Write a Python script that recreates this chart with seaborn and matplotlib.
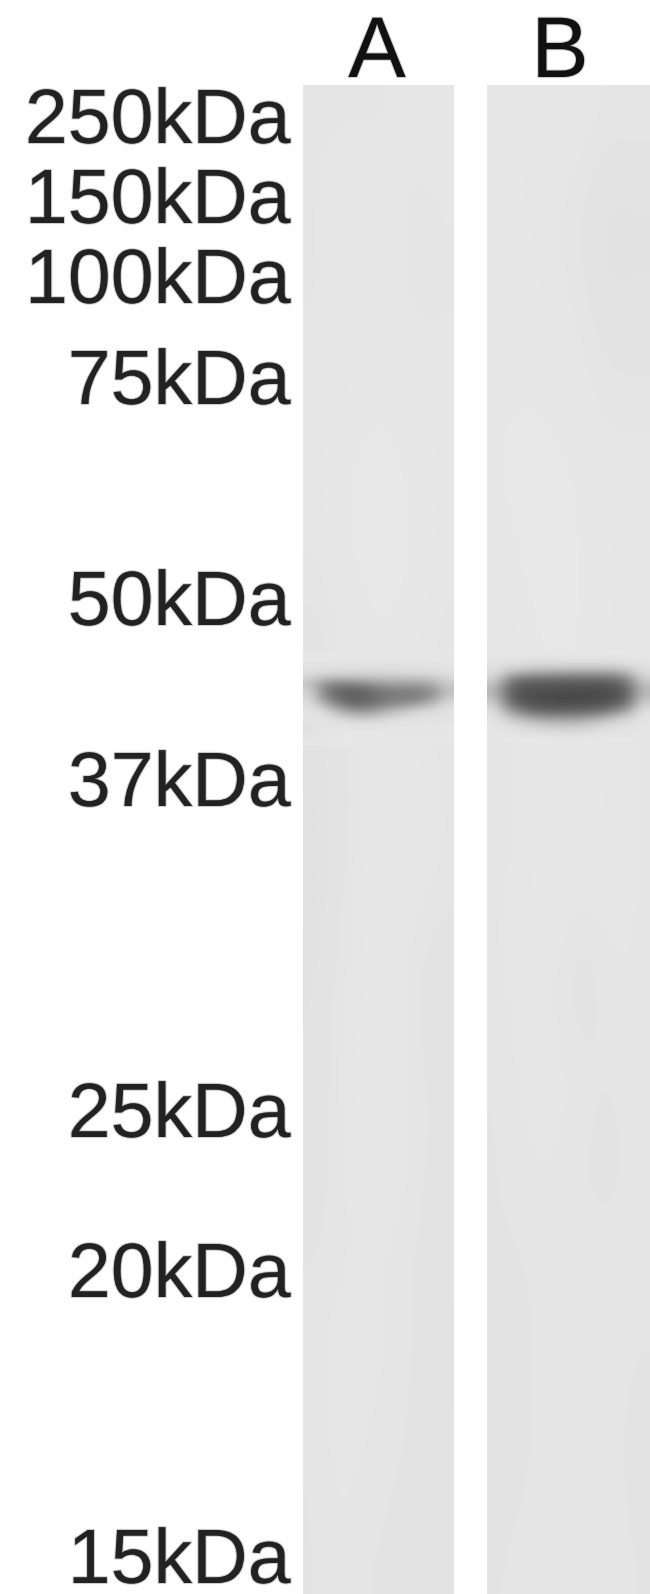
import numpy as np
import matplotlib
matplotlib.use("Agg")
import matplotlib.pyplot as plt
import matplotlib.patheffects as pe
import seaborn as sns

W, H = 650, 1594
marker_labels = ["250kDa", "150kDa", "100kDa", "75kDa", "50kDa", "37kDa", "25kDa", "20kDa", "15kDa"]
lane_labels = ["A", "B"]

lane_a_background = [
    [229, 229, 229, 229, 230, 230],
    [229, 230, 230, 230, 228, 229],
    [229, 229, 230, 230, 229, 229],
    [230, 230, 231, 231, 230, 230],
    [230, 231, 232, 232, 231, 230],
    [228, 230, 231, 231, 231, 229],
    [226, 229, 231, 231, 230, 228],
    [225, 226, 230, 231, 231, 229],
    [224, 228, 231, 231, 230, 229],
    [226, 229, 230, 230, 228, 226],
    [226, 230, 231, 230, 229, 227],
    [227, 229, 230, 230, 229, 227],
    [228, 229, 229, 229, 228, 226],
    [229, 230, 230, 229, 228, 226],
    [228, 230, 229, 228, 228, 226],
    [228, 229, 228, 228, 228, 227],
]
lane_b_background = [
    [230, 230, 230, 230, 229, 229],
    [231, 230, 229, 228, 224, 225],
    [231, 231, 230, 229, 227, 227],
    [231, 231, 231, 230, 229, 229],
    [231, 232, 232, 231, 230, 230],
    [229, 231, 232, 231, 230, 230],
    [229, 230, 231, 231, 230, 229],
    [228, 230, 231, 231, 230, 229],
    [229, 230, 231, 230, 230, 229],
    [229, 230, 229, 226, 229, 229],
    [228, 230, 230, 229, 228, 229],
    [228, 229, 229, 228, 227, 229],
    [228, 228, 229, 229, 229, 229],
    [226, 228, 229, 229, 229, 228],
    [226, 228, 229, 229, 229, 227],
    [228, 229, 229, 229, 229, 228],
]
band_a = [
    [230, 231, 231, 231, 231, 231, 231, 231, 230, 230],
    [229, 229, 229, 229, 229, 229, 229, 229, 229, 229],
    [226, 225, 223, 223, 223, 223, 223, 223, 225, 227],
    [222, 215, 214, 214, 214, 214, 216, 218, 220, 224],
    [205, 175, 170, 172, 180, 185, 185, 185, 190, 212],
    [200, 135, 118, 118, 132, 147, 150, 150, 162, 198],
    [212, 128, 100, 95, 108, 122, 126, 126, 138, 194],
    [218, 142, 104, 95, 104, 122, 126, 132, 152, 207],
    [225, 180, 128, 108, 118, 136, 150, 165, 190, 220],
    [228, 215, 175, 152, 156, 180, 195, 210, 218, 226],
    [228, 226, 210, 195, 195, 210, 218, 224, 226, 228],
    [225, 228, 226, 224, 224, 226, 228, 228, 228, 228],
    [224, 229, 229, 229, 229, 229, 229, 229, 229, 229],
    [227, 229, 230, 230, 230, 230, 230, 230, 230, 230],
    [229, 230, 231, 231, 231, 231, 231, 230, 230, 229],
]
band_b = [
    [230, 231, 231, 231, 231, 231, 231, 231, 230, 230],
    [227, 226, 224, 224, 224, 224, 224, 224, 226, 228],
    [224, 215, 210, 205, 205, 205, 205, 205, 210, 224],
    [222, 180, 165, 160, 160, 155, 155, 155, 170, 220],
    [210, 128, 110, 110, 106, 106, 106, 110, 125, 206],
    [192, 102, 88, 86, 86, 84, 84, 84, 102, 190],
    [186, 92, 80, 78, 75, 75, 75, 78, 90, 186],
    [196, 95, 80, 75, 72, 72, 75, 80, 95, 196],
    [212, 115, 90, 82, 80, 82, 85, 92, 118, 212],
    [224, 152, 118, 105, 103, 105, 110, 128, 162, 224],
    [228, 195, 165, 150, 148, 150, 160, 180, 205, 228],
    [229, 218, 205, 195, 190, 190, 200, 215, 222, 229],
    [229, 226, 220, 215, 212, 212, 218, 224, 226, 229],
    [229, 229, 229, 229, 227, 227, 229, 229, 229, 229],
    [229, 230, 231, 231, 231, 231, 231, 230, 230, 229],
]

# layout, in pixels
marker_baselines = [143, 223, 303, 404, 625, 806, 1137, 1297, 1583]
lane_a_x = (303, 453)
lane_b_x = (487, 650)
lane_y = (85, 1594)
band_y = (651, 746)
label_right = 291
lane_label_x = [377, 560]
lane_label_baseline = 77

plt.rcParams["font.family"] = ["Liberation Sans", "DejaVu Sans"]
fig = plt.figure(figsize=(W / 100, H / 100), dpi=100, facecolor="white")


def pixel_axes(x, y, zorder):
    ax = fig.add_axes([x[0] / W, 1 - y[1] / H, (x[1] - x[0]) / W, (y[1] - y[0]) / H], zorder=zorder)
    return ax


def smooth_heatmap(matrix, x, y, zorder):
    ax = pixel_axes(x, y, zorder)
    arr = np.array(matrix, dtype=float)
    sns.heatmap(arr, ax=ax, cmap="gray", vmin=0, vmax=255, cbar=False,
                xticklabels=False, yticklabels=False)
    rows, cols = arr.shape
    ax.imshow(arr, cmap="gray", vmin=0, vmax=255, interpolation="bicubic", aspect="auto",
              extent=(0, cols, rows, 0), zorder=3)
    ax.set_xlim(0, cols)
    ax.set_ylim(rows, 0)
    ax.axis("off")
    return ax


smooth_heatmap(lane_a_background, lane_a_x, lane_y, 1)
smooth_heatmap(lane_b_background, lane_b_x, lane_y, 1)
smooth_heatmap(band_a, lane_a_x, band_y, 2)
smooth_heatmap(band_b, lane_b_x, band_y, 2)

overlay = fig.add_axes([0, 0, 1, 1], zorder=5)
overlay.set_xlim(0, W)
overlay.set_ylim(H, 0)
overlay.axis("off")
blur = [pe.withStroke(linewidth=1.6, foreground="#666666", alpha=0.3)]
for label, base in zip(marker_labels, marker_baselines):
    overlay.text(label_right, base, label, ha="right", va="baseline", fontsize=55.5,
                 color="#222222", path_effects=blur)
for label, xc in zip(lane_labels, lane_label_x):
    overlay.text(xc, lane_label_baseline, label, ha="center", va="baseline", fontsize=62,
                 color="#111111", path_effects=blur)

fig.savefig("out.png", dpi=100, facecolor="white")
